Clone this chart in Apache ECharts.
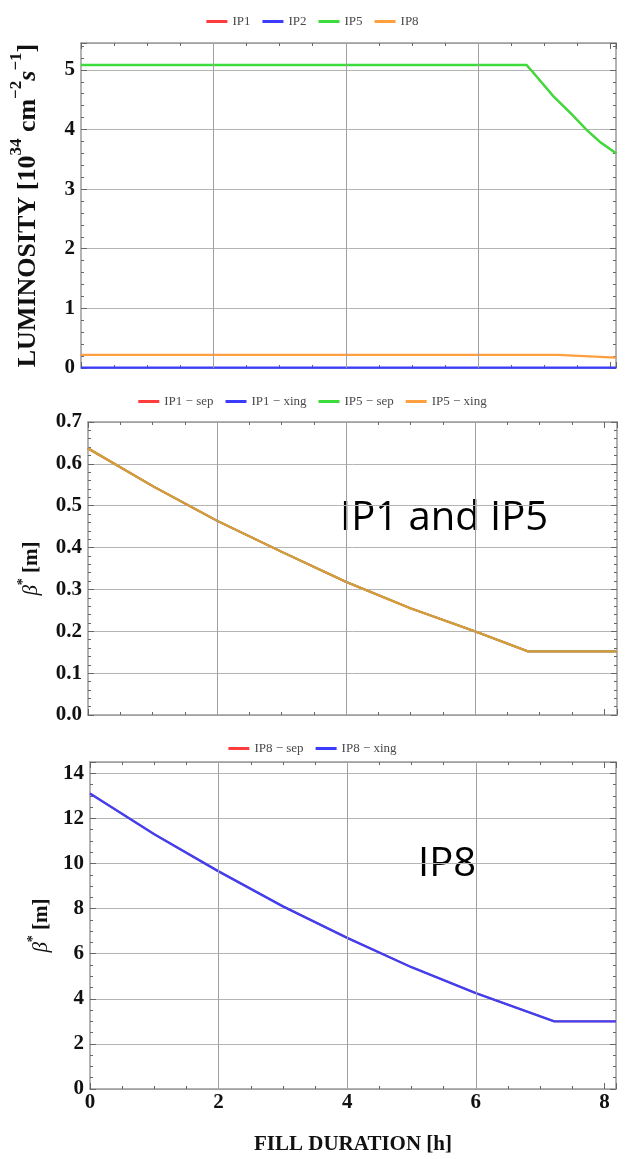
<!DOCTYPE html>
<html>
<head>
<meta charset="utf-8">
<script src="https://cdn.jsdelivr.net/npm/echarts@6/dist/echarts.min.js"></script>
<style>
  html, body { margin: 0; padding: 0; background: #fff; }
  #chart { width: 625px; height: 1159px; }
</style>
</head>
<body>
<div id="chart"></div>
<script>
// ---- Luminosity per interaction point (10^34 cm^-2 s^-1) vs fill duration (h)
const hoursLumiIP15 = [0, 6.73, 6.81, 7.14, 7.39, 7.64, 7.85, 8.08];
const lumiIP1 = [5.08, 5.08, 4.98, 4.55, 4.28, 3.99, 3.78, 3.60];
const lumiIP5 = [5.08, 5.08, 4.98, 4.55, 4.28, 3.99, 3.78, 3.60];
const hoursLumiIP2 = [0, 8.08];
const lumiIP2 = [0.005, 0.005];
const hoursLumiIP8 = [0, 7.2, 8.08];
const lumiIP8 = [0.22, 0.22, 0.175];

// ---- beta* at IP1 and IP5 (m), separation and crossing planes
const hoursBetaIP15 = [0, 1, 2, 3, 4, 5, 6, 6.82, 8.2];
const betaIP1sep  = [0.637, 0.547, 0.464, 0.39, 0.318, 0.255, 0.2, 0.152, 0.152];
const betaIP1xing = [0.637, 0.547, 0.464, 0.39, 0.318, 0.255, 0.2, 0.152, 0.152];
const betaIP5sep  = [0.637, 0.547, 0.464, 0.39, 0.318, 0.255, 0.2, 0.152, 0.152];
const betaIP5xing = [0.637, 0.547, 0.464, 0.39, 0.318, 0.255, 0.2, 0.152, 0.152];

// ---- beta* at IP8 (m)
const hoursBetaIP8 = [0, 1, 2, 3, 4, 5, 6, 7.22, 8.18];
const betaIP8sep  = [13.1, 11.3, 9.65, 8.1, 6.7, 5.4, 4.25, 3.0, 3.0];
const betaIP8xing = [13.1, 11.3, 9.65, 8.1, 6.7, 5.4, 4.25, 3.0, 3.0];

// ---- axis ranges and ticks
const hourGridLines = [2, 4, 6];
const xRanges = [8.08, 8.2, 8.18];
const yRanges = [5.45, 0.7, 14.5];
const yIntervals = [1, 0.1, 2];
const yMinorSplits = [5, 5, 4];

const legendNames1 = ['IP1', 'IP2', 'IP5', 'IP8'];
const legendNames2 = ['IP1 − sep', 'IP1 − xing', 'IP5 − sep', 'IP5 − xing'];
const legendNames3 = ['IP8 − sep', 'IP8 − xing'];

const RED = '#ff3d3d', BLUE = '#3c3cff', GREEN = '#3ddc3d', ORANGE = '#ffa040';
const SERIF = '"Liberation Serif", "DejaVu Serif", serif';

function pairs(xs, ys) { return xs.map((x, i) => [x, ys[i]]); }

const tickLabel = { fontFamily: SERIF, fontWeight: 'bold', fontSize: 21, color: '#111' };
const frameLine = { show: true, onZero: false, lineStyle: { color: '#9a9a9a', width: 1.5 } };
const tickStyle = { lineStyle: { color: '#666', width: 1 } };

function isMultiple(v, step) {
  return Math.abs(v / step - Math.round(v / step)) < 1e-6;
}

function xAxes(gi, max, showLabels) {
  const base = {
    type: 'value', gridIndex: gi, min: 0, max: max, interval: 2,
    axisLine: frameLine,
    axisTick: Object.assign({ show: true, inside: true, length: 6 }, tickStyle),
    minorTick: Object.assign({ show: true, splitNumber: 4, length: 3 }, tickStyle),
    splitLine: { show: false }
  };
  const bottom = Object.assign({}, base, {
    position: 'bottom',
    axisLabel: Object.assign({ show: showLabels, margin: 3, showMaxLabel: false }, tickLabel)
  });
  if (showLabels) {
    Object.assign(bottom, {
      name: 'FILL DURATION [h]', nameLocation: 'middle', nameGap: 45,
      nameTextStyle: { fontFamily: SERIF, fontWeight: 'bold', fontSize: 21, color: '#111' }
    });
  }
  const top = Object.assign({}, base, { position: 'top', axisLabel: { show: false } });
  return [bottom, top];
}

function yAxes(gi, k, name, nameGap, rich, fmt) {
  const base = {
    type: 'value', gridIndex: gi, min: 0, max: yRanges[k], interval: yIntervals[k],
    axisLine: frameLine,
    axisTick: Object.assign({ show: true, inside: true, length: 6 }, tickStyle),
    minorTick: Object.assign({ show: true, splitNumber: yMinorSplits[k], length: 3 }, tickStyle),
  };
  const left = Object.assign({}, base, {
    position: 'left',
    splitLine: { show: true, lineStyle: { color: '#b4b4b4', width: 1 } },
    axisLabel: Object.assign({ margin: 6, showMaxLabel: isMultiple(yRanges[k], yIntervals[k]), formatter: fmt }, tickLabel),
    name: name, nameLocation: 'middle', nameGap: nameGap, nameRotate: 90,
    nameTextStyle: { rich: rich }
  });
  const right = Object.assign({}, base, {
    position: 'right', splitLine: { show: false }, axisLabel: { show: false }
  });
  return [left, right];
}

function titleRich(size) {
  const sup = Math.round(size * 0.66);
  const lh = Math.round(size * 1.25);
  return {
    b: { fontFamily: SERIF, fontWeight: 'bold', fontSize: size, color: '#111', lineHeight: lh, verticalAlign: 'bottom' },
    s: { fontFamily: SERIF, fontWeight: 'bold', fontSize: sup, color: '#111', lineHeight: lh, verticalAlign: 'top' },
    i: { fontFamily: SERIF, fontWeight: 'bold', fontStyle: 'italic', fontSize: size, color: '#111', lineHeight: lh, verticalAlign: 'bottom' },
    g: { fontFamily: SERIF, fontStyle: 'italic', fontSize: size, color: '#111', lineHeight: lh, verticalAlign: 'bottom' }
  };
}

const lumiName = '{b|LUMINOSITY [10}{s|34}{b| cm}{s|−2}{i|s}{s|−1}{b|]}';
const betaName = '{g|β}{s|*}{b| [m]}';

const gridMarks = {
  silent: true, symbol: ['none', 'none'], animation: false,
  label: { show: false },
  lineStyle: { color: '#a0a0a0', width: 1, type: 'solid' },
  data: hourGridLines.map(h => ({ xAxis: h }))
};

function line(name, xi, yi, data, color, extra) {
  return Object.assign({
    name: name, type: 'line', xAxisIndex: xi, yAxisIndex: yi,
    data: data, showSymbol: false, symbol: 'none', animation: false,
    lineStyle: { color: color, width: 2.2 }, itemStyle: { color: color }
  }, extra || {});
}

const legendBase = {
  left: 'center', icon: 'rect', itemWidth: 21, itemHeight: 3, itemGap: 12,
  textStyle: { fontFamily: SERIF, fontSize: 13, color: '#4a4a4a' }
};

const option = {
  backgroundColor: '#fff',
  animation: false,
  legend: [
    Object.assign({}, legendBase, { top: 10, data: legendNames1 }),
    Object.assign({}, legendBase, { top: 390, data: legendNames2 }),
    Object.assign({}, legendBase, { top: 737, data: legendNames3 })
  ],
  grid: [
    { left: 79.5, top: 43, width: 536.5, height: 325, show: false },
    { left: 88, top: 422, width: 529, height: 293, show: false },
    { left: 90, top: 762, width: 526, height: 327, show: false }
  ],
  xAxis: [].concat(
    xAxes(0, xRanges[0], false),
    xAxes(1, xRanges[1], false),
    xAxes(2, xRanges[2], true)
  ),
  yAxis: [].concat(
    yAxes(0, 0, lumiName, 40, titleRich(26), v => String(v)),
    yAxes(1, 1, betaName, 46, titleRich(21), v => v.toFixed(1)),
    yAxes(2, 2, betaName, 38, titleRich(21), v => String(v))
  ),
  graphic: [
    { type: 'text', left: 340, top: 499, style: { text: 'IP1 and IP5', fontFamily: '"Open Sans", sans-serif', fontSize: 40, fill: '#000' } },
    { type: 'text', left: 418, top: 845, style: { text: 'IP8', fontFamily: '"Open Sans", sans-serif', fontSize: 40, fill: '#000' } }
  ],
  series: [
    line('IP1', 0, 0, pairs(hoursLumiIP15, lumiIP1), RED, { markLine: gridMarks, lineStyle: { color: RED, width: 1.8 } }),
    line('IP2', 0, 0, pairs(hoursLumiIP2, lumiIP2), BLUE),
    line('IP5', 0, 0, pairs(hoursLumiIP15, lumiIP5), GREEN, { lineStyle: { color: GREEN, width: 2.4 } }),
    line('IP8', 0, 0, pairs(hoursLumiIP8, lumiIP8), ORANGE),

    line('IP1 − sep', 2, 2, pairs(hoursBetaIP15, betaIP1sep), RED, { markLine: gridMarks, lineStyle: { color: RED, width: 1.8 } }),
    line('IP1 − xing', 2, 2, pairs(hoursBetaIP15, betaIP1xing), BLUE, { lineStyle: { color: BLUE, width: 1.8 } }),
    line('IP5 − sep', 2, 2, pairs(hoursBetaIP15, betaIP5sep), GREEN, { lineStyle: { color: GREEN, width: 1.8 } }),
    line('IP5 − xing', 2, 2, pairs(hoursBetaIP15, betaIP5xing), ORANGE, { lineStyle: { color: '#d99a3a', width: 2.4 } }),

    line('IP8 − sep', 4, 4, pairs(hoursBetaIP8, betaIP8sep), RED, { markLine: gridMarks, lineStyle: { color: RED, width: 1.8 } }),
    line('IP8 − xing', 4, 4, pairs(hoursBetaIP8, betaIP8xing), BLUE, { lineStyle: { color: '#4040f0', width: 2.4 } })
  ]
};

const chart = echarts.init(document.getElementById('chart'), null, { renderer: 'canvas' });
chart.setOption(option);
</script>
</body>
</html>
